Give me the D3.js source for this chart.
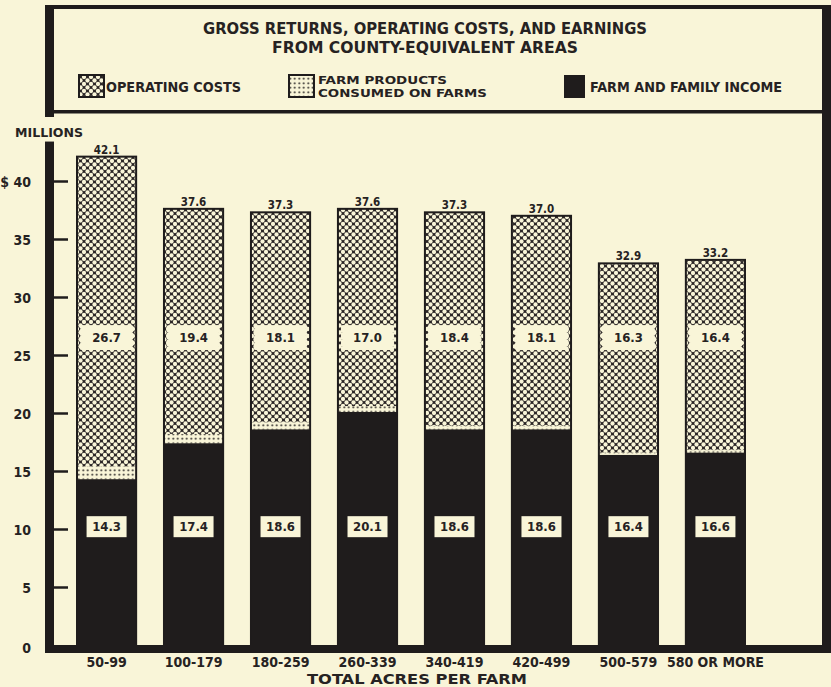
<!DOCTYPE html>
<html>
<head>
<meta charset="utf-8">
<script src="https://cdn.jsdelivr.net/npm/d3@7"></script>
<style>
  html, body { margin: 0; padding: 0; background: #f9f5d8; }
  svg { display: block; }
  text { font-family: "DejaVu Sans Condensed", "Liberation Sans", sans-serif; font-weight: bold; fill: #262222; }
</style>
</head>
<body>
<svg id="chart" width="831" height="687"></svg>
<script>
// Farm-size classes (total acres per farm)
const categories = ["50-99", "100-179", "180-259", "260-339", "340-419", "420-499", "500-579", "580 OR MORE"];
// Millions of dollars
const income   = [14.3, 17.4, 18.6, 20.1, 18.6, 18.6, 16.4, 16.6];  // farm and family income
const consumed = [1.1, 0.8, 0.6, 0.5, 0.3, 0.3, 0.2, 0.2];          // farm products consumed on farms
const costs    = [26.7, 19.4, 18.1, 17.0, 18.4, 18.1, 16.3, 16.4];  // operating costs
const totals   = [42.1, 37.6, 37.3, 37.6, 37.3, 37.0, 32.9, 33.2];  // gross returns
const yTicks   = [0, 5, 10, 15, 20, 25, 30, 35, 40];

const INK = "#1f1c1c", PAPER = "#f9f5d8";

const svg = d3.select("#chart");
const defs = svg.append("defs");

// open-mesh pattern for operating costs
const P = 7;
const net = defs.append("pattern").attr("id", "net")
  .attr("patternUnits", "userSpaceOnUse").attr("width", P).attr("height", P);
net.append("rect").attr("width", P).attr("height", P).attr("fill", "#2a2525");
[[0,0],[P,0],[0,P],[P,P],[P/2,P/2]].forEach(([cx, cy]) =>
  net.append("circle").attr("cx", cx).attr("cy", cy).attr("r", 2.15).attr("fill", PAPER));

// stipple pattern for farm products consumed on farms
const dots = defs.append("pattern").attr("id", "dots")
  .attr("patternUnits", "userSpaceOnUse").attr("width", 4.5).attr("height", 4.5);
dots.append("rect").attr("width", 4.5).attr("height", 4.5).attr("fill", PAPER);
dots.append("circle").attr("cx", 2.25).attr("cy", 2.25).attr("r", 1.0).attr("fill", INK);

svg.append("rect").attr("width", 831).attr("height", 687).attr("fill", PAPER);

// scales
const y = d3.scaleLinear().domain([0, 40]).range([645, 181]);
const x = d3.scaleBand().domain(categories).range([77, 745]).paddingInner(0.32).paddingOuter(0);

// stacked series: income at the base, then consumed products, then costs
const rows = categories.map((c, i) => ({ cat: c, income: income[i], consumed: consumed[i], costs: costs[i], total: totals[i] }));
const stack = d3.stack().keys(["income", "consumed", "costs"])(rows);
const fills = { income: INK, consumed: "url(#dots)", costs: "url(#net)" };

// frame: heading box and plot border
const frame = svg.append("g").attr("fill", INK);
frame.append("rect").attr("x", 45).attr("y", 5).attr("width", 786).attr("height", 4);
frame.append("rect").attr("x", 45).attr("y", 5).attr("width", 9).attr("height", 112);
frame.append("rect").attr("x", 45).attr("y", 110).attr("width", 786).attr("height", 3.5);
frame.append("rect").attr("x", 822).attr("y", 5).attr("width", 9).attr("height", y(0) + 8 - 5);

// headline
svg.append("text").attr("x", 425).attr("y", 34).attr("text-anchor", "middle")
  .attr("font-size", 15.5).attr("textLength", 444).attr("lengthAdjust", "spacingAndGlyphs")
  .text("GROSS RETURNS, OPERATING COSTS, AND EARNINGS");
svg.append("text").attr("x", 425).attr("y", 52.5).attr("text-anchor", "middle")
  .attr("font-size", 15.5).attr("textLength", 306).attr("lengthAdjust", "spacingAndGlyphs")
  .text("FROM COUNTY-EQUIVALENT AREAS");

// legend
const lg = svg.append("g");
lg.append("rect").attr("x", 79).attr("y", 75).attr("width", 25).attr("height", 22)
  .attr("fill", "url(#net)").attr("stroke", INK).attr("stroke-width", 2);
lg.append("text").attr("x", 106).attr("y", 92).attr("font-size", 14)
  .attr("textLength", 135).attr("lengthAdjust", "spacingAndGlyphs").text("OPERATING COSTS");
lg.append("rect").attr("x", 289).attr("y", 75).attr("width", 25).attr("height", 22)
  .attr("fill", "url(#dots)").attr("stroke", INK).attr("stroke-width", 2);
lg.append("text").attr("x", 318).attr("y", 84).attr("font-size", 11)
  .attr("textLength", 129).attr("lengthAdjust", "spacingAndGlyphs").text("FARM PRODUCTS");
lg.append("text").attr("x", 318).attr("y", 97).attr("font-size", 11)
  .attr("textLength", 169).attr("lengthAdjust", "spacingAndGlyphs").text("CONSUMED ON FARMS");
lg.append("rect").attr("x", 564).attr("y", 75).attr("width", 21).attr("height", 23).attr("fill", INK);
lg.append("text").attr("x", 590).attr("y", 92).attr("font-size", 14)
  .attr("textLength", 192).attr("lengthAdjust", "spacingAndGlyphs").text("FARM AND FAMILY INCOME");

// y axis: heavy spine with ticks pointing into the plot
svg.append("rect").attr("x", 45).attr("y", y(43.4)).attr("width", 9).attr("height", y(0) + 8 - y(43.4)).attr("fill", INK);
const yAxis = svg.append("g").attr("transform", "translate(54,0)")
  .call(d3.axisRight(y).tickValues(yTicks.filter(d => d > 0)).tickSize(14).tickFormat(""));
yAxis.select(".domain").remove();
yAxis.selectAll("line").attr("stroke", INK).attr("stroke-width", 2.5);

const yLab = svg.append("g").attr("transform", "translate(31,0)")
  .call(d3.axisLeft(y).tickValues(yTicks).tickSize(0).tickPadding(0)
    .tickFormat(d => d === 40 ? "$ 40" : d));
yLab.select(".domain").remove();
yLab.selectAll("text").attr("font-size", 14).attr("fill", "#262222")
  .attr("font-family", null).attr("dy", "0.36em")
  .attr("y", d => d === 0 ? 2 : 0);

svg.append("text").attr("x", 15).attr("y", 137).attr("font-size", 13)
  .attr("textLength", 68).attr("lengthAdjust", "spacingAndGlyphs").text("MILLIONS");

// stacked bars
const layers = svg.append("g").selectAll("g").data(stack).join("g")
  .attr("fill", d => fills[d.key]);
layers.selectAll("rect").data(d => d).join("rect")
  .attr("x", d => x(d.data.cat))
  .attr("width", x.bandwidth())
  .attr("y", d => y(d[1]))
  .attr("height", d => y(d[0]) - y(d[1]));

// bar outlines
svg.append("g").selectAll("rect").data(rows).join("rect")
  .attr("x", d => x(d.cat)).attr("width", x.bandwidth())
  .attr("y", d => y(d.total)).attr("height", d => y(0) - y(d.total))
  .attr("fill", "none").attr("stroke", INK).attr("stroke-width", 2);

// baseline
svg.append("rect").attr("x", 45).attr("y", y(0)).attr("width", 786).attr("height", 8).attr("fill", INK);

// gross-return totals above bars
svg.append("g").selectAll("text").data(rows).join("text")
  .attr("x", d => x(d.cat) + x.bandwidth() / 2).attr("y", d => y(d.total) - 3)
  .attr("text-anchor", "middle").attr("font-size", 11.5).text(d => d.total.toFixed(1));

// operating-cost labels in scalloped cut-outs
const costLabelAt = 26.5, incomeLabelAt = 10.2;
const cg = svg.append("g").selectAll("g").data(rows).join("g")
  .attr("transform", d => `translate(${x(d.cat) + x.bandwidth() / 2},${y(costLabelAt)})`);
const boxW = x.bandwidth() - 9, boxH = 25;
cg.append("rect").attr("x", -boxW / 2).attr("y", -boxH / 2).attr("width", boxW).attr("height", boxH).attr("fill", PAPER);
cg.each(function () {
  const g = d3.select(this);
  for (let t = -boxH / 2 + 2; t <= boxH / 2 - 1; t += P / 2) {
    g.append("circle").attr("cx", -boxW / 2).attr("cy", t).attr("r", 1.9).attr("fill", PAPER);
    g.append("circle").attr("cx", boxW / 2).attr("cy", t).attr("r", 1.9).attr("fill", PAPER);
  }
});
cg.append("text").attr("text-anchor", "middle").attr("dy", "0.36em").attr("font-size", 13)
  .text(d => d.costs.toFixed(1));

// income labels in plain boxes
const ig = svg.append("g").selectAll("g").data(rows).join("g")
  .attr("transform", d => `translate(${x(d.cat) + x.bandwidth() / 2},${y(incomeLabelAt)})`);
ig.append("rect").attr("x", -20).attr("y", -10.5).attr("width", 40).attr("height", 21).attr("fill", PAPER);
ig.append("text").attr("text-anchor", "middle").attr("dy", "0.36em").attr("font-size", 13)
  .text(d => d.income.toFixed(1));

// x axis
const xAxis = svg.append("g").attr("transform", `translate(0,${y(0) + 8})`)
  .call(d3.axisBottom(x).tickSize(0));
xAxis.select(".domain").remove();
xAxis.selectAll("text").attr("font-size", 14).attr("fill", "#262222")
  .attr("font-family", null).attr("dy", 0).attr("y", 14);

svg.append("text").attr("x", 417).attr("y", 684).attr("text-anchor", "middle")
  .attr("font-size", 14).attr("textLength", 220).attr("lengthAdjust", "spacingAndGlyphs")
  .text("TOTAL ACRES PER FARM");
</script>
</body>
</html>
